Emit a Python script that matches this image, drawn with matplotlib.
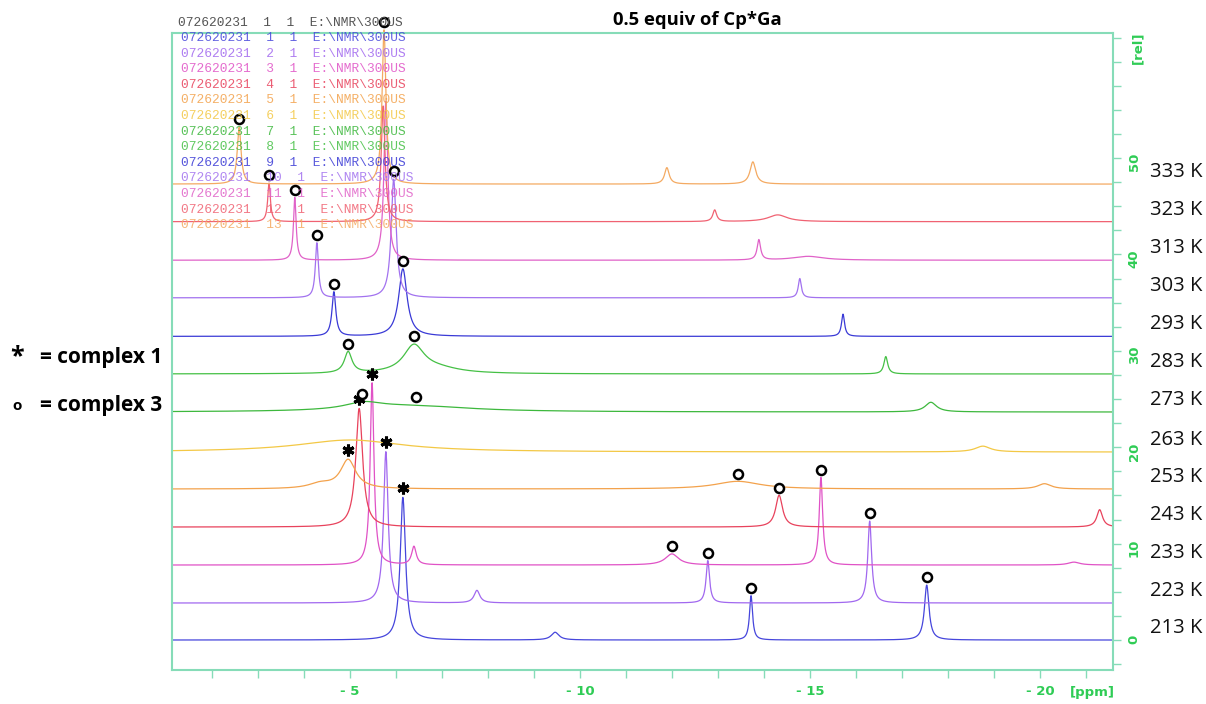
import numpy as np
import matplotlib
matplotlib.use("Agg")
import matplotlib.pyplot as plt
from matplotlib.ticker import MultipleLocator, FixedLocator, FuncFormatter

# --- datos ---------------------------------------------------------------
temps = ["213 K", "223 K", "233 K", "243 K", "253 K", "263 K", "273 K",
         "283 K", "293 K", "303 K", "313 K", "323 K", "333 K"]
offsets = [0.0, 3.84, 7.78, 11.72, 15.66, 19.5, 23.65, 27.6, 31.5, 35.5,
           39.4, 43.4, 47.3]
colors = ["#4646dc", "#a168ef", "#e052c6", "#e8425c", "#f3a24c", "#f3c845",
          "#3db83d", "#45c045", "#3a3ad6", "#a272ef", "#e062c8", "#f06272",
          "#f4aa62"]

# picos: (ppm, altura, ancho a media altura) por espectro
peaks_213 = [(-6.15, 14.8, 0.14), (-9.46, 0.8, 0.2), (-13.72, 4.6, 0.08), (-17.54, 5.7, 0.12)]
peaks_223 = [(-5.78, 15.7, 0.12), (-7.76, 1.3, 0.15), (-12.78, 4.4, 0.09), (-16.3, 8.5, 0.1)]
peaks_233 = [(-5.48, 18.9, 0.1), (-6.39, 1.9, 0.12), (-12.0, 1.15, 0.35),
             (-15.24, 9.1, 0.09), (-20.74, 0.3, 0.3)]
peaks_243 = [(-5.2, 12.3, 0.18), (-14.33, 3.3, 0.18), (-21.3, 1.8, 0.15)]
peaks_253 = [(-4.96, 3.0, 0.4), (-4.35, 0.5, 0.6), (-13.43, 0.8, 1.2), (-20.1, 0.55, 0.35)]
peaks_263 = [(-5.0, 1.25, 2.8), (-18.76, 0.6, 0.4)]
peaks_273 = [(-5.3, 0.7, 1.0), (-6.4, 0.6, 3.0), (-17.63, 1.0, 0.3)]
peaks_283 = [(-4.96, 2.2, 0.2), (-6.39, 2.8, 0.55), (-6.9, 0.5, 1.2), (-16.65, 1.8, 0.1)]
peaks_293 = [(-4.65, 4.6, 0.1), (-6.15, 7.0, 0.22), (-15.72, 2.3, 0.08)]
peaks_303 = [(-4.28, 5.7, 0.08), (-5.95, 12.3, 0.13), (-14.78, 2.0, 0.08)]
peaks_313 = [(-3.8, 6.5, 0.07), (-5.78, 16.5, 0.1), (-13.89, 2.1, 0.09), (-14.96, 0.4, 0.8)]
peaks_323 = [(-3.24, 4.0, 0.07), (-5.72, 12.0, 0.1), (-12.93, 1.2, 0.1), (-14.3, 0.7, 0.5)]
peaks_333 = [(-2.59, 5.9, 0.1), (-5.74, 16.0, 0.1), (-11.89, 1.7, 0.12), (-13.76, 2.3, 0.15)]
peaks = [peaks_213, peaks_223, peaks_233, peaks_243, peaks_253, peaks_263, peaks_273,
         peaks_283, peaks_293, peaks_303, peaks_313, peaks_323, peaks_333]

# marcas: (indice de espectro, ppm)
complex1 = [(0, -6.15), (1, -5.78), (2, -5.48), (3, -5.2), (4, -4.96)]
complex3 = [(0, -13.72), (0, -17.54), (1, -12.78), (1, -16.3), (2, -12.0), (2, -15.24),
            (3, -14.33), (4, -13.43), (6, -5.26), (6, -6.43), (7, -4.96), (7, -6.39),
            (8, -4.65), (8, -6.15), (9, -4.28), (9, -5.95), (10, -3.8), (11, -3.24),
            (12, -2.59), (12, -5.74)]

legend_rows = list(range(1, 14))
x_major = [-5, -10, -15, -20]
y_major = [0, 10, 20, 30, 40, 50]
XLIM = (-1.13, -21.59)
YLIM = (-3.11, 62.97)
BOX = "#86dcb8"
GREEN = "#2fcc55"


def espectro(x, i):
    y = np.full_like(x, offsets[i])
    for p, h, w in peaks[i]:
        y += h / (1 + ((x - p) / (w / 2)) ** 2)
    return y


fig = plt.figure(figsize=(12.06, 7.04), dpi=100)
ax = fig.add_axes([172 / 1206, 34 / 704, 941 / 1206, 637 / 704])

x = np.linspace(XLIM[0], XLIM[1], 8000)
for i in range(len(temps)):
    ax.plot(x, espectro(x, i), color=colors[i], lw=0.9, clip_on=False, zorder=2)
    ax.text(1.039, offsets[i] + 1.25, temps[i], transform=ax.get_yaxis_transform(),
            ha="left", va="center", fontsize=14.5, family="Open Sans", color="#111111")

for i, p in complex1:
    yv = espectro(np.array([p]), i)[0]
    ax.plot([p], [yv + 0.95], ls="", marker=(6, 2, 0), ms=8.5, mew=2.2, color="black",
            clip_on=False, zorder=4)
for i, p in complex3:
    yv = espectro(np.array([p]), i)[0]
    ax.plot([p], [yv + 0.8], ls="", marker="o", ms=6.5, mew=1.8, mfc="white",
            mec="black", clip_on=False, zorder=4)

ax.set_xlim(*XLIM)
ax.set_ylim(*YLIM)
for s in ax.spines.values():
    s.set_color(BOX)
    s.set_linewidth(1.5)

ax.xaxis.set_major_locator(FixedLocator(x_major))
ax.xaxis.set_minor_locator(FixedLocator([v for v in range(-2, -22, -1) if v % 5]))
ax.xaxis.set_major_formatter(FuncFormatter(lambda v, _: "- %d" % abs(v)))
ax.tick_params(axis="x", which="both", direction="out", length=5.5, width=1,
               color=BOX, labelcolor=GREEN, labelsize=9.5, pad=5)
ax.yaxis.tick_right()
ax.yaxis.set_major_locator(FixedLocator(y_major))
ax.yaxis.set_minor_locator(MultipleLocator(2.5))
ax.tick_params(axis="y", which="both", direction="out", length=5.5, width=1,
               color=BOX, labelcolor=GREEN, labelsize=9.5, labelrotation=90, pad=5)
for lab in ax.get_xticklabels() + ax.get_yticklabels():
    lab.set_fontweight("bold")
ax.text(1.026, 61.4, "[rel]", transform=ax.get_yaxis_transform(), rotation=90,
        ha="center", va="center", color=GREEN, fontsize=9.5, fontweight="bold")
ax.text(-21.15, -5.4, "[ppm]", ha="center", va="center", color=GREEN,
        fontsize=9.5, fontweight="bold", clip_on=False)

# cabecera tipo listado de archivos
fig.text(178 / 1206, 1 - 23 / 704, "072620231  1  1  E:\\NMR\\300US", color="#555555",
         family="Liberation Mono", fontsize=9.3, va="center")
for k, n in enumerate(legend_rows):
    fig.text(181 / 1206, 1 - (38 + 15.6 * k) / 704,
             "072620231  %d  1  E:\\NMR\\300US" % n, color=colors[n - 1], alpha=0.85,
             family="Liberation Mono", fontsize=9.3, va="center", zorder=1)

fig.text(697 / 1206, 1 - 20 / 704, "0.5 equiv of Cp*Ga", ha="center", va="center",
         fontsize=13.3, fontweight="bold", family="Open Sans")

# leyenda de simbolos
fig.text(17 / 1206, 1 - 357 / 704, "*", ha="center", va="center", fontsize=18,
         fontweight="bold", family="Open Sans")
fig.text(40 / 1206, 1 - 357 / 704, "= complex 1", ha="left", va="center",
         fontsize=15, fontweight="bold", family="Open Sans")
fig.text(17 / 1206, 1 - 406 / 704, "o", ha="center", va="center", fontsize=11,
         fontweight="bold", family="Open Sans")
fig.text(40 / 1206, 1 - 405 / 704, "= complex 3", ha="left", va="center",
         fontsize=15, fontweight="bold", family="Open Sans")

fig.savefig("out.png", dpi=100)
